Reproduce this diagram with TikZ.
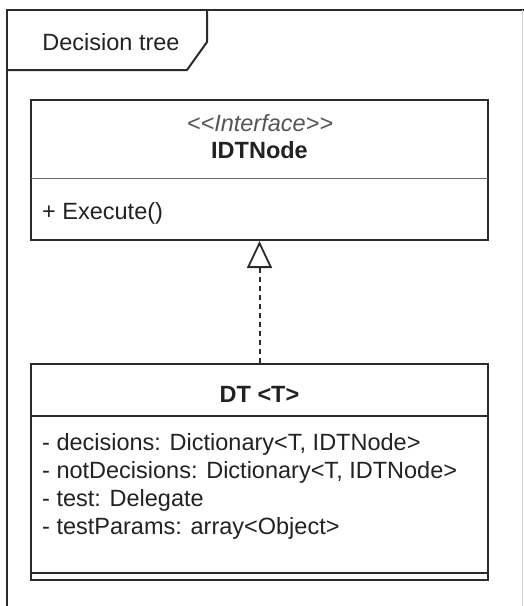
\documentclass[tikz,border=0pt]{standalone}
\usepackage{fontspec}
\setmainfont{Liberation Sans}
\usetikzlibrary{arrows.meta}
\definecolor{ink}{HTML}{222222}
\definecolor{edge}{HTML}{2B2B2B}
\definecolor{soft}{HTML}{555555}
\begin{document}
\begin{tikzpicture}[x=1pt,y=-1pt,
  box/.style={draw=edge,line width=2pt,rectangle,inner sep=0pt,minimum width=457pt},
  txt/.style={text=ink,inner sep=0pt,font=\fontsize{23.5}{28}\selectfont},
  attr/.style={txt,anchor=base west},
  realize/.style={draw=edge,line width=2pt,dash pattern=on 5pt off 4pt,
    -{Triangle[open,width=25pt,length=27pt,line width=1.8pt]}}]
\useasboundingbox (0,0) rectangle (523,606);
\fill[white] (0,0) rectangle (523,606);

% package frame with its name tab
\draw[edge,line width=2pt] (7,640) -- (7,10) -- (540,10);
\draw[gray!35,line width=1pt] (522,10) -- (522,640);
\draw[edge,line width=2pt] (7,70) -- (187,70) -- (207,42) -- (207,10);
\node[txt,anchor=base] (pkg) at (111,50) {Decision tree};

% interface IDTNode
\node[box,minimum height=140pt] (iface) at (259.5,170) {};
\draw[edge!70,line width=1pt] (31,178) -- (488,178);
\node[txt,anchor=base,text=soft] (stereo) at (260,131) {\itshape <{}<Interface>{}>};
\node[txt,anchor=base] (ifname) at (259.5,158) {\bfseries IDTNode};
\node[attr] (exec) at (42,219) {+ Execute()};

% class DT<T>
\node[box,minimum height=216pt] (dt) at (259.5,472) {};
\draw[edge,line width=2pt] (31,416) -- (488,416);
\draw[edge,line width=2pt] (31,573) -- (488,573);
\node[txt,anchor=base] (dtname) at (259.5,402) {\bfseries DT <T>};
\node[attr] (a1) at (42,450) {- decisions: Dictionary<T, IDTNode>};
\node[attr] (a2) at (42,478) {- notDecisions: Dictionary<T, IDTNode>};
\node[attr] (a3) at (42,506) {- test: Delegate};
\node[attr] (a4) at (42,534) {- testParams: array<Object>};

% realization DT -> IDTNode
\draw[realize] (dt.north) -- (iface.south);
\end{tikzpicture}
\end{document}
